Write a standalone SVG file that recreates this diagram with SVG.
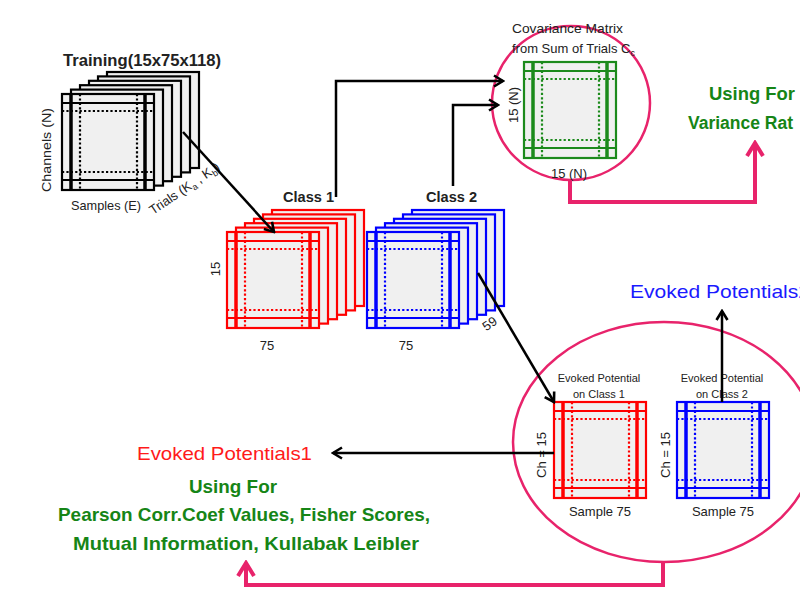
<svg xmlns="http://www.w3.org/2000/svg" xmlns:xlink="http://www.w3.org/1999/xlink" width="800" height="601" viewBox="0 0 800 601">
<style>
text{font-family:"Liberation Sans",Arial,sans-serif;fill:#222}
.lbl{font-size:13px}
.sm{font-size:11px}
.b{font-weight:bold}
.g{fill:#168516;font-weight:bold;font-size:19px}
.conn{fill:none;stroke:#000;stroke-width:2.5}
.pink{fill:none;stroke:#e8236b;stroke-width:4}
.ell{fill:none;stroke:#e8236b;stroke-width:2.5}
</style>
<defs>
<marker id="ah" viewBox="0 0 14 14" refX="12" refY="7" markerWidth="14" markerHeight="14" orient="auto" markerUnits="userSpaceOnUse">
<path d="M3,1.5 L12,7 L3,12.5" fill="none" stroke="#000" stroke-width="2.6" stroke-linejoin="miter"/>
</marker>
<marker id="ahp" viewBox="0 0 20 20" refX="17" refY="10" markerWidth="20" markerHeight="20" orient="auto" markerUnits="userSpaceOnUse">
<path d="M4,2 L17,10 L4,18" fill="none" stroke="#e8236b" stroke-width="4"/>
</marker>
<rect id="pl" width="92" height="96" fill="#f0f0f0" stroke="currentColor" stroke-width="2.2"/>
<g id="mat" stroke="currentColor" fill="none">
<rect width="92" height="96" fill="#f0f0f0" stroke-width="2.2"/>
<path d="M0,9H92M0,86H92" stroke-width="2"/>
<path d="M9,0V96M83,0V96" stroke-width="3.5"/>
<path d="M0,17H92M0,78H92M18,0V96M75,0V96" stroke-width="2.2" stroke-dasharray="2.2,2.2"/>
</g>
<g id="stack">
<use xlink:href="#pl" x="45" y="-22"/>
<use xlink:href="#pl" x="36" y="-17.6"/>
<use xlink:href="#pl" x="27" y="-13.2"/>
<use xlink:href="#pl" x="18" y="-8.8"/>
<use xlink:href="#pl" x="9" y="-4.4"/>
<use xlink:href="#mat"/>
</g>
</defs>
<rect width="800" height="601" fill="#fff"/>

<g id="training" color="#000">
<use xlink:href="#stack" x="62" y="94"/>
<text x="63" y="66" class="b" font-size="17" textLength="158" lengthAdjust="spacingAndGlyphs">Training(15x75x118)</text>
<text class="lbl" transform="translate(51,150) rotate(-90)" text-anchor="middle" textLength="84" lengthAdjust="spacingAndGlyphs">Channels (N)</text>
<text x="71" y="210" class="lbl" textLength="70" lengthAdjust="spacingAndGlyphs">Samples (E)</text>
<text class="lbl" transform="translate(153,215) rotate(-34)" font-size="14">Trials (K<tspan font-size="9" dy="3">a</tspan><tspan dy="-3"> , K</tspan><tspan font-size="9" dy="3">b</tspan><tspan dy="-3">)</tspan></text>
</g>

<g id="class1" color="#ff0000">
<use xlink:href="#stack" x="227" y="232"/>
<text x="283" y="202" class="b" font-size="15" textLength="51" lengthAdjust="spacingAndGlyphs">Class 1</text>
<text class="lbl" transform="translate(220,269) rotate(-90)" text-anchor="middle">15</text>
<text x="267" y="350" class="lbl" text-anchor="middle">75</text>
</g>

<g id="class2" color="#0000ff">
<use xlink:href="#stack" x="367" y="232"/>
<text x="426" y="202" class="b" font-size="15" textLength="51" lengthAdjust="spacingAndGlyphs">Class 2</text>
<text x="406" y="350" class="lbl" text-anchor="middle">75</text>
<text class="lbl" transform="translate(490,324) rotate(-35)" text-anchor="middle" dy="4">59</text>
</g>

<g id="covariance" color="#1c8a1c">
<ellipse cx="571" cy="103" rx="79" ry="77" class="ell"/>
<use xlink:href="#mat" x="524" y="62"/>
<text x="512" y="33" class="lbl" font-size="12.5" textLength="111" lengthAdjust="spacingAndGlyphs">Covariance Matrix</text>
<text x="512" y="53" class="lbl" font-size="12.5">from Sum of Trials C<tspan font-size="9" dy="3">c</tspan></text>
<text class="lbl" transform="translate(518,105) rotate(-90)" text-anchor="middle">15 (N)</text>
<text x="569" y="178" class="lbl" text-anchor="middle">15 (N)</text>
</g>

<g id="variance">
<text x="752" y="100" class="g" font-size="19" text-anchor="middle" textLength="86" lengthAdjust="spacingAndGlyphs">Using For</text>
<text x="688" y="129" class="g" style="font-size:17.5px">Variance Rat</text>
</g>

<g id="evoked" color="#ff0000">
<ellipse cx="664" cy="442" rx="151" ry="120" class="ell"/>
<use xlink:href="#mat" x="554" y="402"/>
<use xlink:href="#mat" x="677" y="402" color="#0000ff"/>
<text x="599" y="382" class="sm" text-anchor="middle">Evoked Potential</text>
<text x="599" y="398" class="sm" text-anchor="middle">on Class 1</text>
<text x="722" y="382" class="sm" text-anchor="middle">Evoked Potential</text>
<text x="722" y="398" class="sm" text-anchor="middle">on Class 2</text>
<text class="lbl" transform="translate(546,455) rotate(-90)" text-anchor="middle">Ch = 15</text>
<text class="lbl" transform="translate(670,455) rotate(-90)" text-anchor="middle">Ch = 15</text>
<text x="600" y="516" class="lbl" text-anchor="middle">Sample 75</text>
<text x="723" y="516" class="lbl" text-anchor="middle">Sample 75</text>
</g>

<g id="ep2">
<text x="630" y="298" font-size="19" style="fill:#1a1aff" textLength="180" lengthAdjust="spacingAndGlyphs">Evoked Potentials2</text>
</g>

<g id="ep1">
<text x="137" y="460" font-size="19" style="fill:#ff1a1a" textLength="175" lengthAdjust="spacingAndGlyphs">Evoked Potentials1</text>
<text x="233" y="493" class="g" text-anchor="middle" textLength="88" lengthAdjust="spacingAndGlyphs">Using For</text>
<text x="244" y="521" class="g" text-anchor="middle" textLength="372" lengthAdjust="spacingAndGlyphs">Pearson Corr.Coef Values, Fisher Scores,</text>
<text x="246" y="550" class="g" text-anchor="middle" textLength="346" lengthAdjust="spacingAndGlyphs">Mutual Information, Kullabak Leibler</text>
</g>

<g id="connectors">
<path class="conn" d="M183,132 L274,232" marker-end="url(#ah)"/>
<path class="conn" d="M336,197 V81 H503" marker-end="url(#ah)"/>
<path class="conn" d="M453,186 V105 H498" marker-end="url(#ah)"/>
<path class="conn" d="M478,273 L554,402" marker-end="url(#ah)"/>
<path class="conn" d="M554,453 H333" marker-end="url(#ah)"/>
<path class="conn" d="M722,402 V311" marker-end="url(#ah)"/>
<path class="pink" d="M570,180 V202 H755 V143" marker-end="url(#ahp)"/>
<path class="pink" d="M663,562 V585 H246 V563" marker-end="url(#ahp)"/>
</g>
</svg>
